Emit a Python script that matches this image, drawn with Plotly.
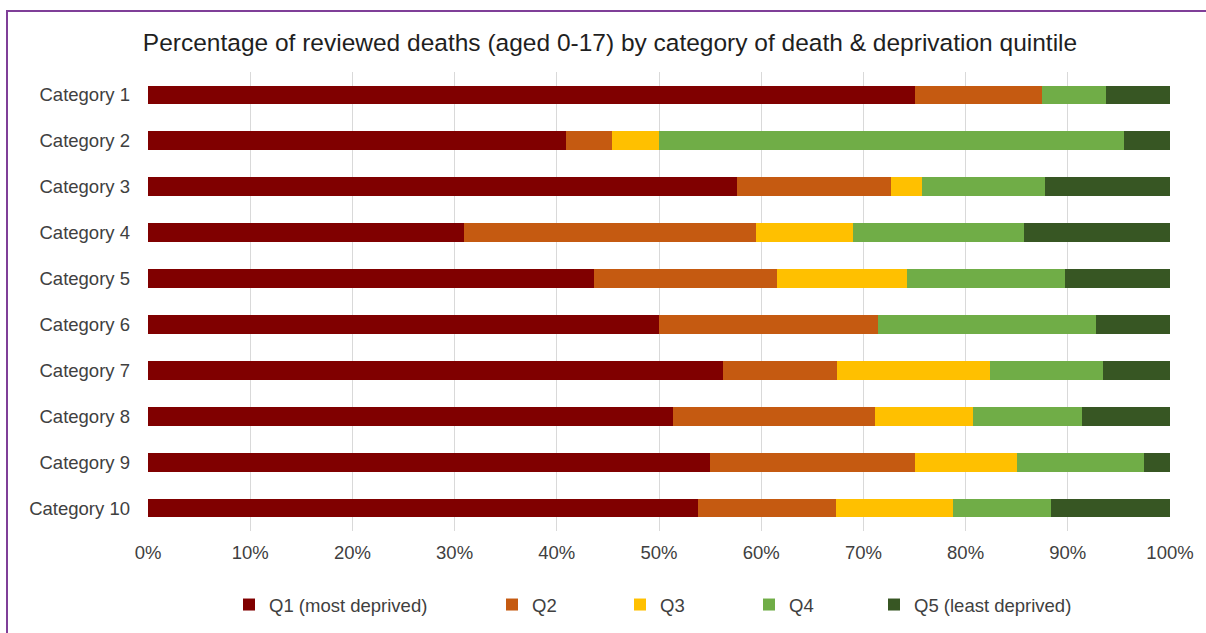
import plotly.graph_objects as go

# Reviewed deaths by category, split by deprivation quintile (% of each category)
categories = [f"Category {i}" for i in range(1, 11)]
q1 = [75.0, 40.9, 57.6, 30.9, 43.6, 50.0, 56.3, 51.4, 55.0, 53.8]
q2 = [12.5, 4.5, 15.1, 28.6, 17.9, 21.4, 11.1, 19.7, 20.0, 13.5]
q3 = [0.0, 4.6, 3.0, 9.5, 12.8, 0.0, 15.0, 9.6, 10.0, 11.5]
q4 = [6.25, 45.5, 12.1, 16.7, 15.4, 21.4, 11.0, 10.7, 12.5, 9.6]
q5 = [6.25, 4.5, 12.2, 14.3, 10.3, 7.2, 6.6, 8.6, 2.5, 11.6]

series_names = ["Q1 (most deprived)", "Q2", "Q3", "Q4", "Q5 (least deprived)"]
series_values = [q1, q2, q3, q4, q5]
series_colors = ["#800000", "#c55a11", "#ffc000", "#70ad47", "#375623"]

x_ticks = list(range(0, 101, 10))
x_tick_labels = [f"{t}%" for t in x_ticks]

W, H = 1206, 633
ML, MR, MT, MB = 148, 36, 72, 102
PW, PH = W - ML - MR, H - MT - MB

FONT = "Liberation Sans, Arial, sans-serif"
TEXT = "#404040"
FS = 18.5

fig = go.Figure()
legend_ids = ["legend", "legend2", "legend3", "legend4", "legend5"]
for name, vals, col, lg in zip(series_names, series_values, series_colors, legend_ids):
    fig.add_trace(go.Bar(
        y=categories, x=vals, name=name, orientation="h",
        marker=dict(color=col, line=dict(width=0)),
        legend=lg,
        hovertemplate="%{y}<br>" + name + ": %{x:.1f}%<extra></extra>",
    ))

# one single-item legend per series, spaced along the bottom
legend_text_starts = [269, 532, 660, 789, 914]
legend_layouts = {}
for lg, xs in zip(legend_ids, legend_text_starts):
    legend_layouts[lg] = dict(
        orientation="h", xref="container", yref="container",
        x=(xs - 40) / W, xanchor="left",
        y=1 - 605 / H, yanchor="middle",
        font=dict(family=FONT, size=FS, color=TEXT),
        bgcolor="rgba(0,0,0,0)", borderwidth=0,
    )

# outer chart frame
frame = dict(
    type="rect", xref="paper", yref="paper",
    x0=(7 - ML) / PW, x1=(W + 10 - ML) / PW,
    y0=(MT + PH - (H + 10)) / PH, y1=(MT + PH - 11) / PH,
    line=dict(color="#7f3f98", width=2), fillcolor="rgba(0,0,0,0)",
    layer="above",
)

fig.update_layout(
    width=W, height=H,
    margin=dict(l=ML, r=MR, t=MT, b=MB),
    paper_bgcolor="white", plot_bgcolor="white",
    barmode="stack", bargap=0.59,
    title=dict(
        text="Percentage of reviewed deaths (aged 0-17) by category of death & deprivation quintile",
        xref="container", yref="container",
        x=610 / W, xanchor="center", y=1 - 42 / H, yanchor="middle",
        font=dict(family=FONT, size=24.5, color="#1f1f1f"),
    ),
    xaxis=dict(
        range=[0, 100], tickvals=x_ticks, ticktext=x_tick_labels,
        showgrid=True, gridcolor="#d9d9d9", gridwidth=1,
        zeroline=False, showline=False, ticks="",
        tickfont=dict(family=FONT, size=FS, color=TEXT),
        ticklabelstandoff=8,
        fixedrange=True,
    ),
    yaxis=dict(
        categoryorder="array", categoryarray=categories,
        autorange="reversed", showgrid=False, zeroline=False,
        showline=False, ticks="",
        tickfont=dict(family=FONT, size=FS, color=TEXT),
        ticklabelstandoff=17,
        fixedrange=True,
    ),
    shapes=[frame],
    showlegend=True,
    **legend_layouts,
)

fig.write_html("out.html")
